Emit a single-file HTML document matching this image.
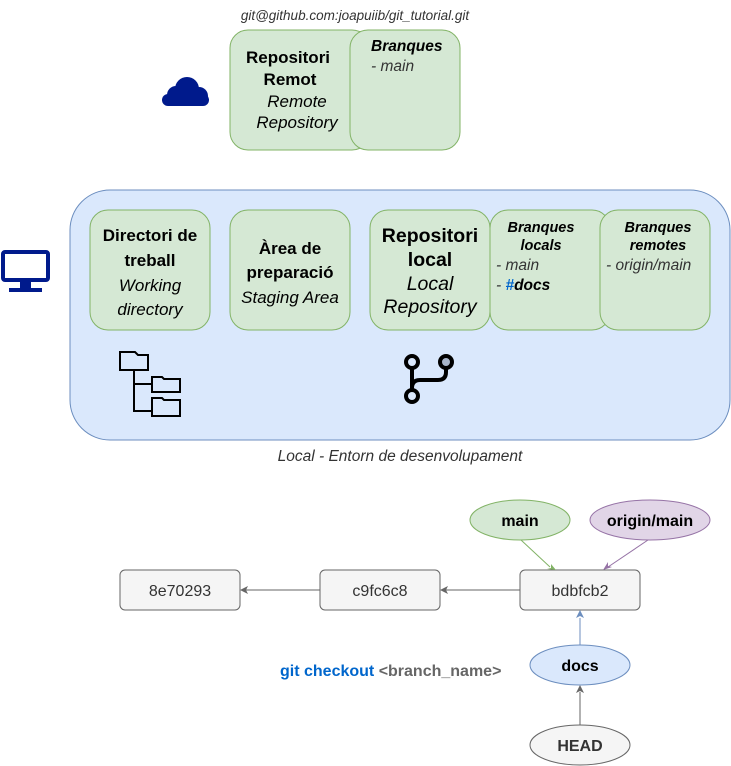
<!DOCTYPE html>
<html><head><meta charset="utf-8"><style>body{margin:0;background:#fff}svg{display:block}text{font-family:"Liberation Sans",Arial,sans-serif}</style></head><body>
<svg width="731" height="766" viewBox="0 0 731 766" xmlns="http://www.w3.org/2000/svg">
<g fill="#001A8C"><circle cx="176" cy="95" r="9"/><circle cx="187" cy="89" r="12"/><circle cx="199" cy="96" r="9"/><rect x="162" y="94" width="47" height="12" rx="6"/></g>
<text x="355" y="20" font-size="13.5" font-style="italic" fill="#333" text-anchor="middle">git@github.com:joapuiib/git_tutorial.git</text>
<rect x="230" y="30" width="140" height="120" rx="18" fill="#d5e8d4" stroke="#82b366"/>
<rect x="350" y="30" width="110" height="120" rx="18" fill="#d5e8d4" stroke="#82b366"/>
<text font-size="17" text-anchor="middle" fill="#000"><tspan x="288" y="63" font-weight="bold">Repositori</tspan><tspan x="290" y="85" font-weight="bold">Remot</tspan><tspan x="297" y="107" font-style="italic">Remote</tspan><tspan x="297" y="128" font-style="italic">Repository</tspan></text>
<text font-size="15.5" font-style="italic"><tspan x="371" y="51" font-weight="bold">Branques</tspan><tspan x="371" y="71" fill="#333">- main</tspan></text>
<g fill="none" stroke="#001A8C" stroke-width="4"><rect x="3" y="252" width="45" height="28" rx="2"/></g>
<rect x="20" y="281" width="11" height="8" fill="#001A8C"/><rect x="9" y="288" width="33" height="4" fill="#001A8C"/>
<rect x="70" y="190" width="660" height="250" rx="40" fill="#dae8fc" stroke="#6c8ebf"/>
<text x="400" y="461" font-size="15.5" font-style="italic" fill="#333" text-anchor="middle">Local - Entorn de desenvolupament</text>
<rect x="90" y="210" width="120" height="120" rx="18" fill="#d5e8d4" stroke="#82b366"/>
<text font-size="17" text-anchor="middle"><tspan x="150" y="241" font-weight="bold">Directori de</tspan><tspan x="150" y="266" font-weight="bold">treball</tspan><tspan x="150" y="291" font-style="italic">Working</tspan><tspan x="150" y="315" font-style="italic">directory</tspan></text>
<rect x="230" y="210" width="120" height="120" rx="18" fill="#d5e8d4" stroke="#82b366"/>
<text font-size="17" text-anchor="middle"><tspan x="290" y="254" font-weight="bold">Àrea de</tspan><tspan x="290" y="278" font-weight="bold">preparació</tspan><tspan x="290" y="303" font-style="italic">Staging Area</tspan></text>
<rect x="370" y="210" width="120" height="120" rx="18" fill="#d5e8d4" stroke="#82b366"/>
<rect x="490" y="210" width="120" height="120" rx="18" fill="#d5e8d4" stroke="#82b366"/>
<rect x="600" y="210" width="110" height="120" rx="18" fill="#d5e8d4" stroke="#82b366"/>
<text font-size="19.5" text-anchor="middle"><tspan x="430" y="242" font-weight="bold">Repositori</tspan><tspan x="430" y="266" font-weight="bold">local</tspan><tspan x="430" y="290" font-style="italic">Local</tspan><tspan x="430" y="313" font-style="italic">Repository</tspan></text>
<text font-size="14.5" font-style="italic" font-weight="bold" text-anchor="middle"><tspan x="541" y="232">Branques</tspan><tspan x="541" y="250">locals</tspan></text>
<text font-size="15.5" font-style="italic" fill="#333"><tspan x="496" y="270">- main</tspan><tspan x="496" y="290">- <tspan fill="#0066CC" font-weight="bold">#</tspan><tspan font-weight="bold" fill="#000">docs</tspan></tspan></text>
<text font-size="14.5" font-style="italic" font-weight="bold" text-anchor="middle"><tspan x="658" y="232">Branques</tspan><tspan x="658" y="250">remotes</tspan></text>
<text x="606" y="270" font-size="15.5" font-style="italic" fill="#333">- origin/main</text>
<g fill="none" stroke="#000" stroke-width="2"><path d="M120 352h15l3 3h10v15h-28z"/><path d="M134 370v41h18M134 384h18"/><path d="M152 377h10l2 2h16v13h-28z"/><path d="M152 398h10l2 2h16v16h-28z"/></g>
<g fill="none" stroke="#000" stroke-width="4"><circle cx="412" cy="362" r="6"/><circle cx="446" cy="362" r="6" fill="#a9b5c9"/><circle cx="412" cy="396" r="6"/><path d="M412 368v22M446 368v4q0 8-8 8h-18q-8 0-8 8"/></g>
<g stroke="#666" fill="#f5f5f5"><rect x="120" y="570" width="120" height="40" rx="5"/><rect x="320" y="570" width="120" height="40" rx="5"/><rect x="520" y="570" width="120" height="40" rx="5"/></g>
<g font-size="16" fill="#333" text-anchor="middle"><text x="180" y="596">8e70293</text><text x="380" y="596">c9fc6c8</text><text x="580" y="596">bdbfcb2</text></g>
<g stroke="#666" fill="none"><path d="M320 590H246M520 590H446"/><path d="M580 725V692"/></g>
<g fill="#666"><path d="M240 590l8-4-2 4 2 4z"/><path d="M440 590l8-4-2 4 2 4z"/><path d="M580 685l-4 8 4-2 4 2z"/></g>
<path d="M580 645V618" stroke="#6c8ebf"/><path d="M580 610l-4 8 4-2 4 2z" fill="#6c8ebf"/>
<path d="M521 540L550 567" stroke="#82b366"/><path d="M556 570l-9-1 4-1 0-4z" fill="#82b366"/>
<path d="M648 540L608 567" stroke="#9673a6"/><path d="M603 570l5-8v4l4 1z" fill="#9673a6"/>
<ellipse cx="520" cy="520" rx="50" ry="20" fill="#d5e8d4" stroke="#82b366"/>
<ellipse cx="650" cy="520" rx="60" ry="20" fill="#e1d5e7" stroke="#9673a6"/>
<ellipse cx="580" cy="665" rx="50" ry="20" fill="#dae8fc" stroke="#6c8ebf"/>
<ellipse cx="580" cy="745" rx="50" ry="20" fill="#f5f5f5" stroke="#666"/>
<g font-size="16" font-weight="bold" text-anchor="middle"><text x="520" y="526">main</text><text x="650" y="526">origin/main</text><text x="580" y="671">docs</text><text x="580" y="751" fill="#333">HEAD</text></g>
<text x="280" y="676" font-size="16" font-weight="bold" fill="#0066CC">git checkout <tspan fill="#666">&lt;branch_name&gt;</tspan></text>
</svg>
</body></html>
